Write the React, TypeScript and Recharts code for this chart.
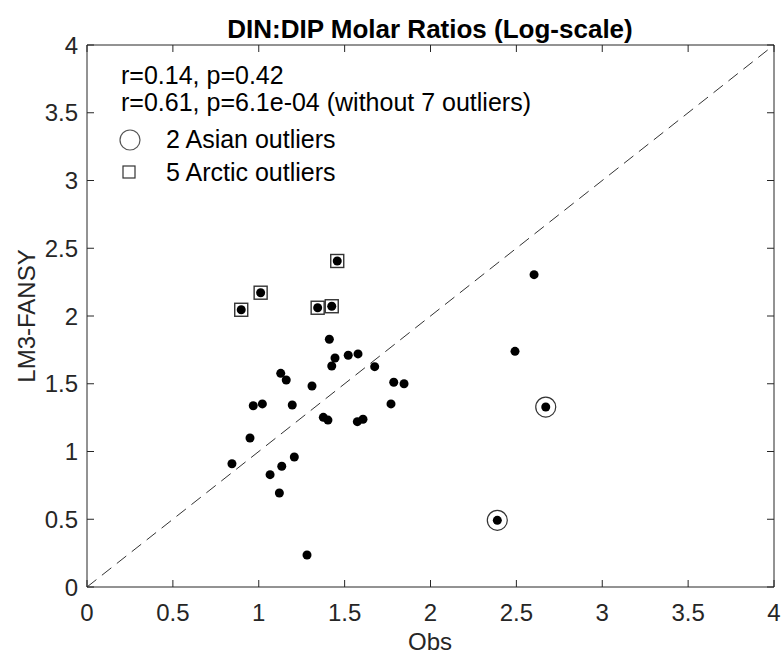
import { ScatterChart, Scatter, XAxis, YAxis, ReferenceLine, Customized } from "recharts"

// regular sites
const obsMain = [1.411, 1.444, 1.521, 1.578, 1.425, 1.675, 1.128, 1.16, 1.31, 1.786, 1.846, 0.968, 1.021, 1.195, 1.77, 1.376, 1.403, 1.574, 1.607, 0.949, 0.844, 1.207, 1.134, 1.066, 1.12, 1.281, 2.603, 2.492]
const modMain = [1.828, 1.69, 1.71, 1.72, 1.631, 1.626, 1.577, 1.528, 1.483, 1.511, 1.5, 1.338, 1.351, 1.343, 1.351, 1.252, 1.232, 1.22, 1.238, 1.1, 0.91, 0.959, 0.891, 0.829, 0.694, 0.236, 2.305, 1.739]

// outliers
const obsArctic = [1.457, 1.011, 0.898, 1.343, 1.425]
const modArctic = [2.406, 2.172, 2.046, 2.061, 2.072]
const obsAsian = [2.671, 2.389]
const modAsian = [1.328, 0.492]

const ticks = [0, 0.5, 1, 1.5, 2, 2.5, 3, 3.5, 4]

const toPoints = (xs: number[], ys: number[]) => xs.map((x, i) => ({ x, y: ys[i] }))
const allDots = [
  ...toPoints(obsMain, modMain),
  ...toPoints(obsArctic, modArctic),
  ...toPoints(obsAsian, modAsian),
]
const arctic = toPoints(obsArctic, modArctic)
const asian = toPoints(obsAsian, modAsian)

const W = 781
const H = 657
const LEFT = 87
const RIGHT = 774
const TOP = 45
const BOTTOM = 587
const TICK = 7
const FONT = "'Liberation Sans', Arial, Helvetica, sans-serif"
const INK = "#262626"

const XTick = (props: any) => {
  const { x, payload } = props
  return (
    <g>
      <line x1={x} x2={x} y1={BOTTOM} y2={BOTTOM - TICK} stroke={INK} />
      <line x1={x} x2={x} y1={TOP} y2={TOP + TICK} stroke={INK} />
      <text x={x} y={621} textAnchor="middle" fontSize={24} fontFamily={FONT} fill={INK}>
        {payload.value}
      </text>
    </g>
  )
}

const YTick = (props: any) => {
  const { y, payload } = props
  return (
    <g>
      <line x1={LEFT} x2={LEFT + TICK} y1={y} y2={y} stroke={INK} />
      <line x1={RIGHT} x2={RIGHT - TICK} y1={y} y2={y} stroke={INK} />
      <text x={78} y={y} textAnchor="end" dominantBaseline="central" fontSize={24} fontFamily={FONT} fill={INK}>
        {payload.value}
      </text>
    </g>
  )
}

const Dot = (p: any) => <circle cx={p.cx} cy={p.cy} r={4.5} fill="#000" />
const Ring = (p: any) => <circle cx={p.cx} cy={p.cy} r={10} fill="none" stroke="#333" strokeWidth={1.2} />
const Box = (p: any) => <rect x={p.cx - 6.5} y={p.cy - 6.5} width={13} height={13} fill="none" stroke="#333" strokeWidth={1.4} />

const Annotations = () => (
  <g fontFamily={FONT}>
    <text x={430} y={38} textAnchor="middle" fontSize={26} fontWeight="bold" fill="#000">
      DIN:DIP Molar Ratios (Log-scale)
    </text>
    <text x={121} y={84} fontSize={25} fill="#000">r=0.14, p=0.42</text>
    <text x={121} y={111} fontSize={25} fill="#000">r=0.61, p=6.1e-04 (without 7 outliers)</text>
    <circle cx={130} cy={140} r={10} fill="none" stroke="#555" strokeWidth={1.2} />
    <text x={166} y={148} fontSize={25} fill="#000">2 Asian outliers</text>
    <rect x={123} y={166} width={12} height={12} fill="none" stroke="#333" strokeWidth={1.2} />
    <text x={166} y={181} fontSize={25} fill="#000">5 Arctic outliers</text>
    <text x={430} y={650} textAnchor="middle" fontSize={24} fill={INK}>Obs</text>
    <text x={26} y={316} textAnchor="middle" dominantBaseline="central" fontSize={24} fill={INK} transform="rotate(-90 26 316)">
      LM3-FANSY
    </text>
  </g>
)

export default function App() {
  return (
    <div style={{ position: "absolute", left: 0, top: 0, width: W, height: H, background: "#fff" }}>
      <ScatterChart width={W} height={H} margin={{ top: TOP, right: W - RIGHT, bottom: 0, left: 0 }}>
        <XAxis
          type="number"
          dataKey="x"
          domain={[0, 4]}
          ticks={ticks}
          height={H - BOTTOM}
          tick={<XTick />}
          tickLine={false}
          axisLine={{ stroke: INK }}
          interval={0}
        />
        <YAxis
          type="number"
          dataKey="y"
          domain={[0, 4]}
          ticks={ticks}
          width={LEFT}
          tick={<YTick />}
          tickLine={false}
          axisLine={{ stroke: INK }}
          interval={0}
        />
        <ReferenceLine y={4} stroke={INK} />
        <ReferenceLine x={4} stroke={INK} />
        <ReferenceLine
          segment={[{ x: 0, y: 0 }, { x: 4, y: 4 }]}
          stroke="#333"
          strokeDasharray="12 7"
        />
        <Scatter data={allDots} shape={Dot} isAnimationActive={false} />
        <Scatter data={asian} shape={Ring} isAnimationActive={false} />
        <Scatter data={arctic} shape={Box} isAnimationActive={false} />
        <Customized component={Annotations} />
      </ScatterChart>
    </div>
  )
}
